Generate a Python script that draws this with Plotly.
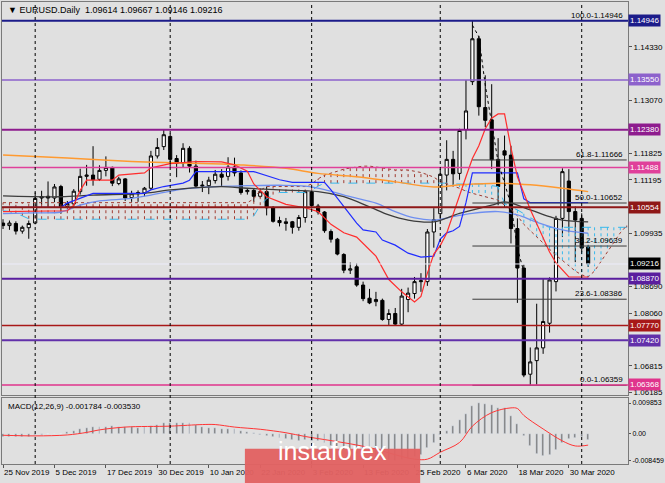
import pandas as pd
import plotly.graph_objects as go
from plotly.subplots import make_subplots

# daily bars 25 Nov 2019 .. 2 Apr 2020 (no bars on 25 Dec / 1 Jan),
# plus 6 forward bars where only the ichimoku cloud is drawn
days = [d for d in pd.bdate_range("2019-11-25", "2020-04-10")
        if d.strftime("%m-%d") not in ("12-25", "01-01")]
dates = [d.strftime("%Y-%m-%d") for d in days]

opens = [1.1018, 1.1012, 1.1017, 1.0999, 1.1007, 1.1018, 1.1077, 1.1081, 1.1077, 1.1104,
         1.1057, 1.1063, 1.1092, 1.1128, 1.1131, 1.1121, 1.1142, 1.1149, 1.1111, 1.1122,
         1.1078, 1.1087, 1.1089, 1.1100, 1.1176, 1.1198, 1.1222, 1.1170, 1.1159, 1.1194,
         1.1152, 1.1105, 1.1106, 1.1118, 1.1133, 1.1128, 1.1150, 1.1136, 1.1092, 1.1095,
         1.1081, 1.1092, 1.1054, 1.1024, 1.1017, 1.1021, 1.1008, 1.1031, 1.1092, 1.1058,
         1.1044, 1.0998, 1.0980, 1.0944, 1.0907, 1.0915, 1.0872, 1.0841, 1.0833, 1.0836,
         1.0791, 1.0805, 1.0780, 1.0838, 1.0852, 1.0880, 1.0880, 1.0997, 1.1040, 1.1131,
         1.1168, 1.1135, 1.1238, 1.1351, 1.1452, 1.1290, 1.1261, 1.1168, 1.1188, 1.1178,
         1.1005, 1.0912, 1.0662, 1.0694, 1.0724, 1.0782, 1.0880, 1.1029, 1.1117, 1.1045,
         1.1029, 1.09614]
highs = [1.1027, 1.1024, 1.1022, 1.1012, 1.1024, 1.1090, 1.1094, 1.1116, 1.1110, 1.1108,
         1.1070, 1.1098, 1.1146, 1.1155, 1.1199, 1.1154, 1.1175, 1.1151, 1.1127, 1.1124,
         1.1094, 1.1095, 1.1103, 1.1188, 1.1218, 1.1239, 1.1229, 1.1178, 1.1206, 1.1199,
         1.1165, 1.1117, 1.1127, 1.1143, 1.1145, 1.1173, 1.1172, 1.1142, 1.1100, 1.1100,
         1.1099, 1.1104, 1.1058, 1.1033, 1.1030, 1.1023, 1.1037, 1.1096, 1.1095, 1.1063,
         1.1046, 1.1003, 1.0983, 1.0947, 1.0925, 1.0923, 1.0880, 1.0863, 1.0856, 1.0840,
         1.0815, 1.0818, 1.0863, 1.0866, 1.0891, 1.0900, 1.1004, 1.1053, 1.1145, 1.1213,
         1.1188, 1.1240, 1.1355, 1.1495, 1.1459, 1.1366, 1.1345, 1.1218, 1.1224, 1.1200,
         1.1029, 1.0920, 1.0725, 1.0828, 1.0888, 1.0890, 1.1035, 1.1147, 1.1145, 1.1057,
         1.1041, 1.09667]
lows = [1.1004, 1.1002, 1.0991, 1.0993, 1.0981, 1.1015, 1.1061, 1.1056, 1.1067, 1.1040,
        1.1052, 1.1058, 1.1085, 1.1106, 1.1106, 1.1117, 1.1128, 1.1105, 1.1107, 1.1070,
        1.1068, 1.1068, 1.1081, 1.1096, 1.1170, 1.1190, 1.1150, 1.1126, 1.1150, 1.1137,
        1.1101, 1.1091, 1.1086, 1.1111, 1.1105, 1.1118, 1.1128, 1.1085, 1.1085, 1.1068,
        1.1078, 1.1036, 1.1019, 1.1010, 1.1000, 1.0993, 1.1000, 1.1019, 1.1052, 1.1038,
        1.0995, 1.0972, 1.0942, 1.0900, 1.0898, 1.0868, 1.0834, 1.0827, 1.0822, 1.0788,
        1.0778, 1.0778, 1.0778, 1.0808, 1.0840, 1.0856, 1.0870, 1.0960, 1.1025, 1.1095,
        1.1107, 1.1120, 1.1215, 1.1343, 1.1271, 1.1244, 1.1145, 1.1060, 1.1056, 1.0970,
        1.0830, 1.0655, 1.0636, 1.0637, 1.0710, 1.0760, 1.0857, 1.0985, 1.0996, 1.0926,
        1.0950, 1.09146]
closes = [1.1012, 1.1018, 1.0999, 1.1008, 1.1017, 1.1076, 1.1080, 1.1077, 1.1103, 1.1057,
          1.1064, 1.1093, 1.1128, 1.1131, 1.1120, 1.1142, 1.1149, 1.1112, 1.1122, 1.1077,
          1.1087, 1.1090, 1.1100, 1.1176, 1.1196, 1.1226, 1.1168, 1.1159, 1.1194, 1.1152,
          1.1105, 1.1107, 1.1119, 1.1133, 1.1126, 1.1150, 1.1136, 1.1090, 1.1095, 1.1081,
          1.1092, 1.1054, 1.1022, 1.1019, 1.1021, 1.1008, 1.1031, 1.1092, 1.1059, 1.1044,
          1.1000, 1.0980, 1.0945, 1.0907, 1.0910, 1.0872, 1.0840, 1.0830, 1.0838, 1.0791,
          1.0805, 1.0780, 1.0846, 1.0853, 1.0880, 1.0882, 1.0997, 1.1026, 1.1133, 1.1168,
          1.1134, 1.1236, 1.1282, 1.1452, 1.1292, 1.1260, 1.1167, 1.1104, 1.1178, 1.1005,
          1.0912, 1.0660, 1.0691, 1.0724, 1.0786, 1.0884, 1.1029, 1.1139, 1.1045, 1.1025,
          1.0959, 1.09216]

# ichimoku cloud edges, one value per bar (incl. forward bars)
span_a = [1.1047, 1.1045, 1.1040, 1.1035, 1.1028, 1.1027, 1.1027, 1.1027, 1.1027, 1.1027,
          1.1027, 1.1027, 1.1027, 1.1027, 1.1027, 1.1027, 1.1027, 1.1027, 1.1027, 1.1027,
          1.1027, 1.1027, 1.1027, 1.1027, 1.1027, 1.1027, 1.1027, 1.1027, 1.1027, 1.1027,
          1.1027, 1.1027, 1.1027, 1.1027, 1.1027, 1.1027, 1.1027, 1.1027, 1.1027, 1.1035,
          1.1060, 1.1075, 1.1085, 1.1090, 1.1090, 1.1090, 1.1090, 1.1090, 1.1095, 1.1105,
          1.1112, 1.1112, 1.1112, 1.1112, 1.1112, 1.1112, 1.1112, 1.1112, 1.1112, 1.1112,
          1.1112, 1.1112, 1.1112, 1.1112, 1.1112, 1.1112, 1.1112, 1.1112, 1.1112, 1.1112,
          1.1110, 1.1110, 1.1110, 1.1110, 1.1110, 1.1110, 1.1106, 1.1104, 1.1064, 1.1055,
          1.1049, 1.1040, 1.1029, 1.1020, 1.1013, 1.1008, 1.1006, 1.1008, 1.1008, 1.1008,
          1.1008, 1.1008, 1.1008, 1.1008, 1.1008, 1.1008, 1.1008, 1.1008]
span_b = [1.1066, 1.1066, 1.1066, 1.1066, 1.1066, 1.1066, 1.1066, 1.1066, 1.1066, 1.1066,
          1.1066, 1.1066, 1.1066, 1.1066, 1.1066, 1.1066, 1.1066, 1.1066, 1.1066, 1.1066,
          1.1066, 1.1066, 1.1066, 1.1066, 1.1066, 1.1066, 1.1066, 1.1066, 1.1066, 1.1066,
          1.1066, 1.1066, 1.1066, 1.1066, 1.1066, 1.1066, 1.1066, 1.1066, 1.1066, 1.1075,
          1.1095, 1.1104, 1.1104, 1.1104, 1.1104, 1.1104, 1.1104, 1.1104, 1.1110, 1.1122,
          1.1131, 1.1135, 1.1140, 1.1145, 1.1148, 1.1150, 1.1152, 1.1152, 1.1150, 1.1148,
          1.1145, 1.1143, 1.1143, 1.1143, 1.1140, 1.1137, 1.1132, 1.1126, 1.1116, 1.1110,
          1.1105, 1.1100, 1.1093, 1.1088, 1.1084, 1.1080, 1.1076, 1.1072, 1.1060, 1.1050,
          1.1035, 1.1015, 1.1000, 1.0985, 1.0970, 1.0955, 1.0942, 1.0930, 1.0918, 1.0905,
          1.0896, 1.0891, 1.0905, 1.0928, 1.0952, 1.0975, 1.0995, 1.1012]

# indicator lines read at a few bars each
tenkan_bars = [0, 10, 11, 12, 13, 17, 18, 22, 23, 26, 30, 34, 36, 38, 39, 41, 44, 47, 49, 51,
               53, 55, 58, 60, 62, 64, 65, 66, 67, 68, 69, 70, 71, 72, 73, 74, 75, 76, 77, 78,
               79, 80, 82, 84, 85, 86, 88, 91]
tenkan = [1.1045, 1.1047, 1.1060, 1.1095, 1.1119, 1.1119, 1.1131, 1.1136, 1.1148, 1.1158,
          1.1163, 1.1162, 1.1155, 1.1140, 1.1110, 1.1080, 1.1062, 1.1054, 1.1045, 1.1015,
          1.0995, 1.0985, 1.0940, 1.0885, 1.0856, 1.0832, 1.0845, 1.0900, 1.0945, 1.0965,
          1.0994, 1.1040, 1.1085, 1.1127, 1.1170, 1.1200, 1.1240, 1.1265, 1.1275, 1.1275,
          1.1195, 1.1127, 1.1050, 1.0985, 1.0950, 1.0924, 1.0891, 1.0891]
kijun_bars = [0, 9, 10, 12, 14, 22, 23, 25, 28, 29, 30, 39, 41, 43, 45, 50, 51, 53, 55, 56,
              58, 59, 61, 63, 65, 67, 68, 69, 70, 71, 72, 73, 80, 81, 82, 91]
kijun = [1.1055, 1.1055, 1.1065, 1.1077, 1.1088, 1.1088, 1.1096, 1.1104, 1.1112, 1.1119,
         1.1139, 1.1139, 1.1130, 1.1120, 1.1114, 1.1114, 1.1096, 1.1057, 1.1018, 1.1002,
         1.0997, 1.0978, 1.0966, 1.0947, 1.0938, 1.0940, 1.0980, 1.0995, 1.1000, 1.1010,
         1.1066, 1.1136, 1.1136, 1.1075, 1.1066, 1.1066]
ma_orange_bars = [0, 10, 20, 26, 34, 37, 44, 49, 55, 61, 67, 71, 77, 82, 87, 91]
ma_orange = [1.1178, 1.1171, 1.1163, 1.1160, 1.1157, 1.1155, 1.1147, 1.1135, 1.1127, 1.1115,
             1.1103, 1.1108, 1.1112, 1.1108, 1.1100, 1.1092]
ma_black_bars = [0, 9, 14, 22, 26, 31, 34, 38, 43, 49, 53, 57, 60, 63, 67, 71, 76, 78, 82, 85,
                 87, 91]
ma_black = [1.1082, 1.1080, 1.1084, 1.1088, 1.1096, 1.1102, 1.1104, 1.1100, 1.1096, 1.1092,
            1.1080, 1.1056, 1.1037, 1.1025, 1.1021, 1.1041, 1.1060, 1.1068, 1.1049, 1.1033,
            1.1025, 1.1021]
ma_blue_bars = [0, 5, 9, 12, 15, 20, 23, 28, 33, 38, 43, 47, 50, 54, 58, 61, 64, 67, 70, 73,
                77, 80, 83, 87, 91]
ma_blue = [1.1040, 1.1042, 1.1044, 1.1060, 1.1070, 1.1076, 1.1084, 1.1098, 1.1104, 1.1106,
           1.1107, 1.1105, 1.1097, 1.1080, 1.1065, 1.1045, 1.1030, 1.1025, 1.1033, 1.1041,
           1.1045, 1.1037, 1.1020, 1.1002, 1.0994]
dotted_bars = [73, 74, 75, 76, 77, 79, 80, 81]
dotted = [1.1484, 1.1457, 1.1343, 1.1257, 1.1162, 1.1061, 1.0959, 1.0903]

# horizontal levels with their right-axis labels
levels = [1.14946, 1.13550, 1.12380, 1.11488, 1.10554, 1.08870, 1.07770, 1.07420, 1.06368]
level_colors = ["#1c1c8a", "#8d62cc", "#8e1c8e", "#e0409a", "#8f1818", "#5a1e9e", "#a81818",
                "#6230aa", "#e0348c"]
level_widths = [2, 1.5, 2, 1.5, 2, 2, 1.5, 2, 1.5]
last_price = 1.09216

fib_pct = ["100.0", "61.8", "50.0", "38.2", "23.6", "0.0"]
fib_price = [1.14946, 1.11666, 1.10652, 1.09639, 1.08386, 1.06359]

price_ticks = [1.14330, 1.13070, 1.11825, 1.11195, 1.09935, 1.08690, 1.08060, 1.06815, 1.06185]

macd_hist = [-0.0008, -0.0008, -0.0009, -0.0009, -0.0008, -0.0004, -0.0002, 0.0000, 0.0001, -0.0001,
             0.0006, 0.0010, 0.0016, 0.0019, 0.0021, 0.0023, 0.0023, 0.0024, 0.0023, 0.0023,
             0.0021, 0.0020, 0.0021, 0.0025, 0.0030, 0.0034, 0.0036, 0.0036, 0.0035, 0.0034,
             0.0028, 0.0023, 0.0020, 0.0018, 0.0016, 0.0015, 0.0015, 0.0011, 0.0007, 0.0003,
             -0.0002, -0.0006, -0.0009, -0.0013, -0.0017, -0.0020, -0.0022, -0.0020, -0.0021, -0.0023,
             -0.0030, -0.0037, -0.0044, -0.0052, -0.0057, -0.0063, -0.0069, -0.0073, -0.0076, -0.0081,
             -0.0083, -0.008459, -0.0082, -0.0078, -0.0072, -0.0066, -0.0045, -0.0027, -0.0002, 0.0010,
             0.0027, 0.0043, 0.0065, 0.0090, 0.009853, 0.0097, 0.0093, 0.0083, 0.0082, 0.0058,
             0.0032, -0.0005, -0.0038, -0.0062, -0.0070, -0.0068, -0.0050, -0.0027, -0.0016, -0.0014,
             -0.0011, -0.001784]
signal_bars = [0, 5, 10, 13, 15, 19, 26, 31, 33, 36, 40, 44, 47, 51, 55, 58, 61, 64, 66, 68,
               71, 73, 76, 79, 80, 81, 84, 87, 89, 91]
signal = [-0.0004, -0.0006, -0.0003, 0.0005, 0.0013, 0.0022, 0.0025, 0.0030, 0.0030, 0.0022,
          0.0015, 0.0004, -0.0008, -0.0021, -0.0035, -0.0048, -0.0066, -0.0080, -0.0080, -0.0058,
          -0.0027, 0.0025, 0.0068, 0.0083, 0.0081, 0.0059, 0.0016, -0.0022, -0.0038, -0.00353]

BG = "#e0e0e0"
FONT = "Liberation Sans"

fig = make_subplots(rows=2, cols=1, shared_xaxes=True, vertical_spacing=0.01)


def at(bars):
    return [dates[i] for i in bars]


# cloud hatch: vertical dotted strokes between the two spans
for up, color in [(True, "#38b8ec"), (False, "#a03c32")]:
    xs, ys = [], []
    for d, a, b in zip(dates, span_a, span_b):
        if (a > b) == up:
            xs += [d, d, None]
            ys += [a, b, None]
    fig.add_trace(go.Scatter(x=xs, y=ys, mode="lines", hoverinfo="skip",
                             line=dict(color=color, width=1, dash="dot")), row=1, col=1)
fig.add_trace(go.Scatter(x=dates, y=span_a, mode="lines",
                         line=dict(color="#38b8ec", width=1, dash="dash")), row=1, col=1)
fig.add_trace(go.Scatter(x=dates, y=span_b, mode="lines",
                         line=dict(color="#a03c32", width=1, dash="dot")), row=1, col=1)

fig.add_trace(go.Scatter(x=at(ma_orange_bars), y=ma_orange, mode="lines",
                         line=dict(color="#ff9a30", width=1.5, shape="spline")), row=1, col=1)
fig.add_trace(go.Scatter(x=at(ma_blue_bars), y=ma_blue, mode="lines",
                         line=dict(color="#6f8ff0", width=1.3, shape="spline")), row=1, col=1)
fig.add_trace(go.Scatter(x=at(ma_black_bars), y=ma_black, mode="lines",
                         line=dict(color="#3c3c3c", width=1.3, shape="spline")), row=1, col=1)
fig.add_trace(go.Scatter(x=at(kijun_bars), y=kijun, mode="lines",
                         line=dict(color="#1f2cff", width=1.2)), row=1, col=1)
fig.add_trace(go.Scatter(x=at(tenkan_bars), y=tenkan, mode="lines",
                         line=dict(color="#ff2d2d", width=1.2)), row=1, col=1)
fig.add_trace(go.Scatter(x=at(dotted_bars), y=dotted, mode="lines",
                         line=dict(color="black", width=1, dash="dot")), row=1, col=1)

# fibo retracement from the high bar to the right edge
top_bar = highs.index(max(highs))
for pct, p in zip(fib_pct, fib_price):
    fig.add_trace(go.Scatter(x=[dates[top_bar], dates[-1]], y=[p, p], mode="lines",
                             line=dict(color="#3a3a3a", width=1)), row=1, col=1)
    fig.add_annotation(x=0.996, xref="paper", y=p, yref="y", xanchor="right", yanchor="bottom",
                       text=f"{pct}-{p:.5f}", showarrow=False, yshift=-1,
                       font=dict(size=8, color="black", family=FONT))

n = len(opens)
fig.add_trace(go.Candlestick(x=dates[:n], open=opens, high=highs, low=lows, close=closes,
                             increasing=dict(line=dict(color="black", width=1), fillcolor="white"),
                             decreasing=dict(line=dict(color="black", width=1), fillcolor="black"),
                             whiskerwidth=0), row=1, col=1)

# MACD window
fig.add_trace(go.Bar(x=dates[:n], y=macd_hist, marker_color="#7c7c7c", width=0.3), row=2, col=1)
fig.add_trace(go.Scatter(x=at(signal_bars), y=signal, mode="lines",
                         line=dict(color="#ff3535", width=1, shape="spline")), row=2, col=1)

# level lines and their price boxes
fig.add_hline(y=last_price, line=dict(color="#ececfa", width=1), row=1, col=1)
for v, c, w in zip(levels, level_colors, level_widths):
    fig.add_hline(y=v, line=dict(color=c, width=w), row=1, col=1)
boxes = list(zip(levels, level_colors)) + [(last_price, "black")]
for v, c in boxes:
    fig.add_annotation(x=1, xref="paper", y=v, yref="y", xanchor="left", xshift=0,
                       text=f"{v:.5f}", showarrow=False, bgcolor=c, borderpad=1,
                       font=dict(size=8, color="white", family=FONT))

# monthly period separators
for i in range(1, n):
    if dates[i][5:7] != dates[i - 1][5:7]:
        fig.add_shape(type="line", xref="x", x0=i, x1=i, yref="paper", y0=0, y1=1,
                      line=dict(color="black", width=1, dash="dot"))

fig.add_annotation(x=0.006, xref="paper", y=1, yref="paper", xanchor="left", yanchor="top",
                   yshift=-1, showarrow=False,
                   text="\u25bc EURUSD.Daily  1.09614 1.09667 1.09146 1.09216",
                   font=dict(size=9, color="black", family=FONT))
fig.add_annotation(x=0.006, xref="paper", y=1, yref="y2 domain", xanchor="left", yanchor="top",
                   yshift=-2, showarrow=False, text="MACD(12,26,9) -0.001784 -0.003530",
                   font=dict(size=8, color="black", family=FONT))

# watermark
fig.add_shape(type="rect", xref="paper", yref="paper", x0=0.388, x1=0.668, y0=-0.045, y1=0.033,
              fillcolor="rgba(226,98,98,0.96)", line=dict(width=0), layer="above")
fig.add_annotation(x=0.528, xref="paper", y=-0.006, yref="paper", showarrow=False,
                   text="instaforex", font=dict(size=25, color="white", family=FONT))

tick_bars = list(range(0, n, 8))
tick_text = [f"{days[i].day} {days[i].strftime('%b %Y')}" for i in tick_bars]

axis_common = dict(showline=True, linecolor="#7a7a7a", linewidth=1, mirror=True,
                   showgrid=False, zeroline=False, automargin=False)
fig.update_layout(
    width=665, height=483, margin=dict(l=2, r=37, t=2, b=19),
    paper_bgcolor=BG, plot_bgcolor=BG, showlegend=False,
    font=dict(family=FONT, size=8, color="black"),
    bargap=0,
    xaxis=dict(type="category", categoryorder="array", categoryarray=dates,
               range=[-0.16, 97.2], showticklabels=False, ticks="",
               rangeslider=dict(visible=False), **axis_common),
    xaxis2=dict(type="category", categoryorder="array", categoryarray=dates,
                range=[-0.16, 97.2], tickvals=at(tick_bars), ticktext=tick_text,
                tickangle=0, ticks="outside", ticklen=3, tickcolor="#555",
                ticklabelposition="outside right", tickfont=dict(size=8), **axis_common),
    yaxis=dict(domain=[0.1494, 1], range=[1.06131, 1.15386], side="right",
               tickvals=price_ticks, ticktext=[f"{t:.5f}" for t in price_ticks],
               ticks="outside", ticklen=3, tickcolor="#555", tickfont=dict(size=8),
               **axis_common),
    yaxis2=dict(domain=[0, 0.1429], range=[-0.00954, 0.01145], side="right",
                tickvals=[0.009853, 0.0, -0.008459], ticktext=["0.009853", "0.00", "-0.008459"],
                ticks="outside", ticklen=2, tickcolor="#555", tickfont=dict(size=7),
                **axis_common),
)

# page body has a default 8px margin; drop it so the figure sits at the window corner
fig.write_html("out.html", config={"displayModeBar": False},
               post_script="document.body.style.margin='0px';")
